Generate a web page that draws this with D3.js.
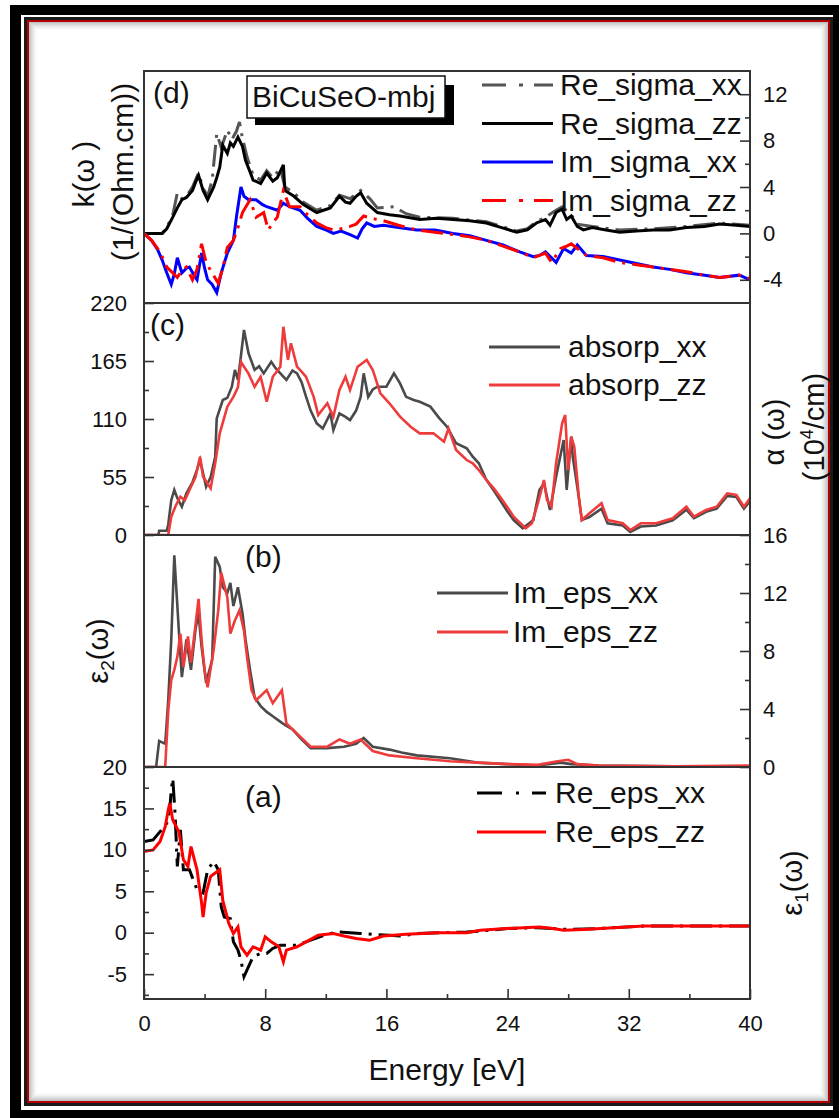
<!DOCTYPE html>
<html>
<head>
<meta charset="utf-8">
<script src="https://cdn.jsdelivr.net/npm/d3@7"></script>
<style>
  html, body { margin: 0; padding: 0; background: #fff; }
  svg { display: block; }
  text { font-family: "Liberation Sans", Arial, sans-serif; fill: #111; }
</style>
</head>
<body>
<svg id="chart" width="839" height="1118"></svg>
<script>
// ---- Energy axis ----
const energyDomain = [0, 40];
const energyMajor = [0, 8, 16, 24, 32, 40];
const energyMinor = [4, 12, 20, 28, 36];

// ---- (d) optical conductivity, [E (eV), value (10^4 1/(Ohm.cm))] ----
const reSigmaXX = [[0,0],[1.2,0],[1.5,0.5],[1.9,1.6],[2.2,3.5],[2.5,3.0],[2.9,3.4],[3.2,4.0],[3.6,5.2],[3.9,3.9],[4.2,3.2],[4.5,4.6],[4.8,8.6],[5.1,7.4],[5.5,8.9],[5.8,8.1],[6.1,8.8],[6.3,9.6],[6.5,8.2],[6.8,6.6],[7.2,5.0],[7.7,4.6],[8.1,5.4],[8.5,4.8],[9.0,5.6],[9.3,4.0],[9.9,3.5],[10.5,2.7],[11.4,2.0],[12.3,2.4],[12.9,3.3],[13.6,3.0],[14.3,3.7],[14.9,3.0],[15.4,2.2],[16.5,2.3],[17.3,1.7],[18.2,1.4],[20.4,1.3],[22.6,1.0],[24.6,0.2],[25.3,0.4],[25.9,1.0],[26.5,1.4],[27.2,2.0],[27.6,2.3],[28.2,1.6],[28.6,0.8],[29.6,0.6],[31.4,0.3],[33.6,0.4],[35.8,0.6],[38.0,0.9],[40,0.7]];
const reSigmaZZ = [[0,0],[1.2,0],[1.5,0.4],[1.9,1.4],[2.2,2.2],[2.5,2.9],[2.8,3.1],[3.2,3.7],[3.4,4.4],[3.6,5.0],[3.9,3.7],[4.2,2.9],[4.6,4.0],[4.8,4.8],[5.0,5.7],[5.2,7.6],[5.5,6.9],[5.7,7.8],[5.9,7.5],[6.2,8.3],[6.5,7.5],[6.7,6.3],[7.0,5.3],[7.2,4.6],[7.7,4.3],[8.1,5.2],[8.5,4.5],[8.8,4.8],[9.2,5.9],[9.3,3.7],[9.9,3.2],[10.5,2.5],[11.0,2.1],[11.4,1.8],[12.3,2.2],[12.9,3.2],[13.3,2.7],[13.6,2.6],[14.0,3.2],[14.3,3.5],[14.7,2.6],[15.4,1.8],[16.2,1.6],[16.9,1.5],[18.2,1.2],[19.3,1.3],[20.4,1.2],[21.5,1.1],[22.6,0.9],[23.6,0.5],[24.6,0.1],[25.3,0.3],[25.9,0.9],[26.5,1.2],[26.8,0.7],[27.2,1.8],[27.6,2.1],[27.9,1.2],[28.2,1.5],[28.6,0.6],[29.0,0.3],[29.6,0.5],[30.5,0.3],[31.4,0.1],[32.5,0.2],[33.6,0.3],[34.7,0.3],[35.8,0.5],[37.0,0.6],[38.0,0.8],[39.1,0.7],[40,0.6]];
const imSigmaXX = [[0,0],[0.5,-0.6],[0.9,-1.4],[1.2,-2.3],[1.5,-3.4],[1.8,-4.4],[2.0,-3.5],[2.2,-2.1],[2.5,-3.4],[2.8,-3.0],[3.0,-2.9],[3.3,-3.6],[3.5,-4.0],[3.8,-1.7],[4.0,-3.0],[4.2,-4.0],[4.5,-4.4],[4.8,-5.1],[5.1,-3.4],[5.5,-1.7],[5.9,-0.6],[6.1,1.4],[6.4,4.0],[6.6,3.2],[6.9,2.9],[7.4,2.9],[7.8,2.5],[8.1,2.3],[8.8,2.0],[9.2,2.6],[9.6,2.3],[10.3,2.0],[10.8,1.3],[11.4,0.6],[12.0,0.3],[12.5,0.0],[13.0,0.2],[13.6,-0.1],[14.1,-0.4],[14.4,0.4],[14.7,0.9],[15.2,0.6],[15.8,0.7],[16.8,0.5],[18.0,0.3],[19.2,0.3],[20.4,0.0],[21.5,-0.2],[22.6,-0.6],[23.7,-1.0],[24.8,-1.6],[25.7,-2.0],[26.1,-1.9],[26.5,-1.6],[26.9,-2.1],[27.2,-2.5],[27.7,-1.3],[28.2,-1.7],[28.6,-1.0],[29.2,-1.9],[30.3,-2.0],[31.4,-2.3],[32.5,-2.6],[33.6,-2.9],[34.7,-3.1],[35.8,-3.4],[37.0,-3.6],[38.0,-3.8],[39.3,-3.6],[40,-4.0]];
const imSigmaZZ = [[0,0],[0.5,-0.6],[0.9,-1.3],[1.2,-2.0],[1.5,-2.9],[1.9,-3.4],[2.2,-3.8],[2.5,-3.2],[2.8,-2.9],[3.2,-4.0],[3.5,-3.1],[3.8,-0.9],[4.1,-2.5],[4.4,-3.2],[4.9,-4.3],[5.2,-3.0],[5.5,-1.2],[5.9,-0.6],[6.2,0.5],[6.5,1.8],[7.0,2.9],[7.4,1.4],[7.9,1.8],[8.2,0.3],[8.5,0.9],[8.8,1.4],[9.2,3.7],[9.6,2.3],[10.3,2.3],[10.8,1.6],[11.4,0.9],[12.0,0.5],[12.5,0.3],[13.0,0.4],[13.6,0.6],[14.0,0.8],[14.5,1.5],[15.0,1.3],[15.8,1.1],[16.8,0.7],[18.0,0.3],[19.2,0.1],[20.4,-0.1],[21.5,-0.3],[22.6,-0.6],[23.7,-1.1],[24.8,-1.6],[25.7,-2.1],[26.5,-1.7],[26.9,-2.5],[27.5,-1.3],[27.9,-1.1],[28.2,-0.9],[28.6,-1.3],[29.2,-1.9],[30.3,-2.1],[31.4,-2.5],[32.5,-2.7],[33.6,-2.9],[34.7,-3.1],[35.8,-3.3],[37.0,-3.6],[38.0,-3.8],[39.3,-3.6],[40,-3.9]];
const dTicks = [-4, 0, 4, 8, 12];
const dMinor = [-2, 2, 6, 10];

// ---- (c) absorption coefficient, [E, 10^4/cm] ----
const absorpXX = [[0,0],[0.95,0],[1.0,4],[1.5,4],[1.6,10],[1.8,33],[2.0,42.7],[2.2,35],[2.5,26.8],[2.8,39.5],[3.2,50],[3.5,62],[3.7,71.1],[4.1,45.8],[4.4,55],[4.7,74.2],[4.8,110.6],[5.2,128],[5.5,130],[5.8,140.6],[6.0,156.5],[6.2,147],[6.4,170],[6.6,194.4],[6.9,172.3],[7.3,156.5],[7.6,160],[7.9,153.3],[8.4,164.3],[8.7,158],[9.0,153.3],[9.4,147],[9.8,156],[10.1,153.3],[10.4,145],[10.7,131],[11.0,118],[11.4,105.9],[11.8,101],[12.3,115.4],[12.5,99.6],[12.9,115.4],[13.3,112],[13.6,109],[14.0,118],[14.3,131],[14.5,153.3],[14.8,131],[15.1,138],[15.4,140.6],[16.0,140.6],[16.5,153.3],[16.9,143.8],[17.3,131],[17.8,128],[18.2,126.4],[18.9,121.7],[19.5,110.6],[20.0,102.7],[20.6,87],[21.3,82.2],[21.7,74.2],[22.1,68],[22.6,52.2],[23.1,42],[23.5,33.2],[24.0,22],[24.4,14.2],[25.0,6.3],[25.7,14.2],[26.1,42.7],[26.4,49],[26.8,23.7],[27.2,55.3],[27.7,90],[27.9,42.7],[28.2,93.2],[28.3,74.2],[28.6,45.8],[28.9,14.2],[29.4,17],[30.2,25],[30.6,11],[31.6,9],[32.1,3],[32.8,8],[33.8,9],[34.9,14],[35.8,24],[36.3,16],[37.1,22],[37.8,25],[38.5,37],[39.1,36],[39.6,25],[40,32]];
const absorpZZ = [[0,0],[1.6,0],[1.8,17.4],[2.1,28],[2.4,36.3],[2.7,33],[3.0,42.7],[3.4,55],[3.7,74.2],[3.9,55.3],[4.4,44.3],[4.7,68],[5.0,96.4],[5.5,121.7],[5.9,131],[6.2,140],[6.4,164],[6.9,153],[7.3,140.6],[7.7,150],[8.1,126.4],[8.5,150],[9.0,159.6],[9.2,197.5],[9.5,166],[9.7,181.8],[10.1,159.6],[10.4,155],[10.7,150],[11.2,131],[11.5,113.8],[12.1,124.9],[12.5,112.2],[12.9,137.5],[13.3,150],[13.6,137.5],[14.1,159.6],[14.7,166],[15.1,156.5],[15.6,134.4],[16.2,124.9],[16.9,112.2],[17.6,102.7],[18.2,96.4],[19.1,96.4],[19.8,88.5],[20.1,101],[20.6,80.6],[21.3,71.1],[21.7,68],[22.1,61.6],[22.6,52.2],[23.1,44],[23.5,36.3],[24.0,26],[24.4,17.4],[25.2,6.3],[25.6,11.1],[26.0,30.1],[26.4,52.2],[26.6,33.2],[26.9,26.8],[27.2,68],[27.6,105.9],[27.8,113.8],[28.0,61.6],[28.2,93.2],[28.4,83.7],[28.7,36.3],[28.9,14.2],[29.4,20.6],[30.2,30.1],[30.6,14.2],[31.6,11.1],[32.1,4.7],[32.8,11.1],[33.8,11.1],[34.9,15.8],[35.8,26.8],[36.3,17.4],[37.1,23.7],[37.8,26.8],[38.5,39.5],[39.1,37.9],[39.6,26.8],[40,34.8]];
const cTicks = [0, 55, 110, 165, 220];
const cMinor = [27.5, 82.5, 137.5, 192.5];

// ---- (b) imaginary dielectric function ----
const imEpsXX = [[0,0],[0.8,0],[1.0,1.8],[1.4,1.6],[1.6,4.6],[1.8,8.8],[2.0,14.6],[2.3,9.4],[2.5,6.2],[2.8,8.8],[3.1,6.7],[3.4,9.5],[3.6,10.6],[3.8,8.3],[4.1,5.8],[4.5,7.4],[4.7,14.5],[5.0,13.8],[5.2,12.4],[5.5,12.0],[5.7,12.7],[5.9,11.1],[6.2,12.4],[6.5,10.6],[6.7,8.8],[7.0,6.7],[7.3,4.8],[7.7,4.2],[8.1,3.8],[8.5,3.5],[8.9,3.2],[9.3,2.9],[9.8,2.6],[10.4,1.9],[11.0,1.3],[12.1,1.3],[13.2,1.4],[14.0,1.6],[14.5,2.0],[15.1,1.4],[16.2,1.2],[17.0,1.0],[18.0,0.8],[20.2,0.6],[22.0,0.3],[24.0,0.2],[26.0,0.1],[27.5,0.3],[28.2,0.2],[30,0.1],[35,0.05],[40,0.05]];
const imEpsZZ = [[0,0],[1.4,0],[1.6,3.9],[1.8,6.0],[2.0,6.7],[2.2,7.6],[2.4,9.2],[2.6,6.9],[2.9,9.0],[3.1,7.2],[3.4,9.8],[3.6,11.6],[3.8,8.8],[4.0,6.7],[4.2,5.5],[4.6,8.1],[4.9,10.8],[5.1,13.4],[5.5,11.7],[5.7,9.2],[6.0,10.1],[6.3,10.8],[6.6,9.4],[6.8,7.6],[7.1,5.3],[7.4,4.6],[8.1,5.3],[8.5,4.4],[9.1,5.3],[9.4,3.0],[10.1,2.3],[11.0,1.4],[12.1,1.4],[12.9,1.9],[13.6,1.6],[14.3,1.9],[15.1,1.1],[16.2,0.8],[18.0,0.6],[20.2,0.4],[22.0,0.3],[24.0,0.2],[26.0,0.15],[27.3,0.4],[28.0,0.5],[28.6,0.2],[30,0.1],[35,0.05],[40,0.1]];
const bTicks = [0, 4, 8, 12, 16];
const bMinor = [2, 6, 10, 14];

// ---- (a) real dielectric function ----
const reEpsXX = [[0,11.0],[0.6,11.2],[1.06,12.2],[1.5,13.2],[1.7,14.9],[1.8,17.2],[1.9,18.6],[2.05,14.4],[2.2,8.0],[2.4,12.4],[2.6,7.6],[3.0,7.6],[3.5,5.2],[3.9,4.8],[4.2,7.6],[4.6,8.6],[4.9,7.6],[5.1,3.1],[5.3,1.9],[5.7,1.7],[5.9,-1.1],[6.2,-2.1],[6.4,-3.3],[6.6,-5.3],[6.9,-4.1],[7.2,-2.9],[7.7,-2.5],[8.1,-2.5],[8.5,-1.9],[9.0,-1.5],[10.1,-1.5],[11.0,-0.9],[11.9,-0.3],[12.7,0.1],[13.6,0.0],[14.3,-0.1],[15.1,-0.2],[16.2,-0.3],[16.9,-0.4],[18,-0.1],[19.5,0.0],[21.3,0.1],[22.2,0.2],[24,0.5],[26,0.6],[28,0.4],[30,0.5],[33,0.8],[40,0.8]];
const reEpsZZ = [[0,9.8],[0.6,10.0],[1.06,11.0],[1.4,12.8],[1.6,14.8],[1.7,15.6],[1.9,13.6],[2.3,12.2],[2.6,8.8],[2.9,8.0],[3.1,10.4],[3.5,7.6],[3.8,3.6],[3.9,1.9],[4.1,4.8],[4.4,6.8],[4.7,7.2],[5.0,7.6],[5.2,3.9],[5.6,1.1],[5.9,-0.1],[6.2,0.7],[6.4,-1.7],[6.8,-2.7],[7.2,-1.7],[7.7,-2.1],[8.0,-0.5],[8.4,-1.1],[8.9,-1.7],[9.2,-3.5],[9.4,-2.1],[10.1,-1.7],[10.7,-1.1],[11.5,-0.3],[12.5,-0.1],[13.2,-0.4],[14.0,-0.7],[14.9,-0.9],[15.8,-0.4],[17.3,-0.2],[19.5,0.0],[21.3,0.0],[22.2,0.3],[23.9,0.5],[26.1,0.7],[27.0,0.5],[27.7,0.3],[29.0,0.4],[33.0,0.8],[40,0.8]];
const aTicks = [-5, 0, 5, 10, 15, 20];
const aMinor = [-7.5, -2.5, 2.5, 7.5, 12.5, 17.5];

// ---- drawing ----
const svg = d3.select("#chart");
const W = 839, H = 1118;

// page frame: outer black band, thin dark + red rule, soft inner shadow
svg.append("rect").attr("x", 10).attr("y", 5).attr("width", W).attr("height", H).attr("fill", "#000");
svg.append("rect").attr("x", 21).attr("y", 15).attr("width", 812).attr("height", 1095).attr("fill", "#fff");
svg.append("rect").attr("x", 24).attr("y", 17).attr("width", 809).attr("height", 1089).attr("fill", "#1a1a1a");
svg.append("rect").attr("x", 27).attr("y", 20).attr("width", 803).attr("height", 1083).attr("fill", "#b40000");
svg.append("rect").attr("x", 29).attr("y", 22).attr("width", 799).attr("height", 1079).attr("fill", "#fff");
for (let i = 0; i < 8; i++) {
  svg.append("rect")
    .attr("x", 29 + i + 0.5).attr("y", 22 + i + 0.5)
    .attr("width", 799 - 2 * i - 1).attr("height", 1079 - 2 * i - 1)
    .attr("fill", "none").attr("stroke", "#000")
    .attr("stroke-opacity", 0.24 * Math.pow(1 - i / 8, 1.5));
}

const plotLeft = 144, plotRight = 750, panelH = 232;
const x = d3.scaleLinear().domain(energyDomain).range([plotLeft, plotRight]);

function makeY(top, domain) {
  return d3.scaleLinear().domain(domain).range([top + panelH, top]);
}
const yD = makeY(71, [-6, 14]);
const yC = makeY(303, [0, 220]);
const yB = makeY(535, [0, 16]);
const yA = makeY(767, [-8, 20]);

const DASHDOT = "22,7,3,7";
const plainNum = d => String(d);

function clipFor(id, top) {
  svg.append("clipPath").attr("id", id)
    .append("rect").attr("x", plotLeft).attr("y", top)
    .attr("width", plotRight - plotLeft).attr("height", panelH);
  return "url(#" + id + ")";
}

function drawSeries(data, y, clip, color, width, dash) {
  const line = d3.line().x(d => x(d[0])).y(d => y(d[1]));
  svg.append("path")
    .datum(data)
    .attr("d", line)
    .attr("fill", "none")
    .attr("stroke", color)
    .attr("stroke-width", width)
    .attr("stroke-linejoin", "miter")
    .attr("stroke-dasharray", dash || null)
    .attr("clip-path", clip);
}

function styleAxis(g) {
  g.select(".domain").remove();
  g.selectAll(".tick line").attr("stroke", "#333").attr("stroke-width", 1.6);
  g.selectAll("text").attr("font-size", 22).attr("fill", "#111")
    .attr("font-family", '"Liberation Sans", Arial, sans-serif');
}

function yAxis(side, y, major, minor) {
  const xPos = side === "left" ? plotLeft : plotRight;
  const maker = side === "left" ? d3.axisLeft : d3.axisRight;
  const gMin = svg.append("g").attr("transform", `translate(${xPos},0)`)
    .call(maker(y).tickValues(minor).tickSizeInner(-5).tickSizeOuter(0).tickFormat(""));
  const gMaj = svg.append("g").attr("transform", `translate(${xPos},0)`)
    .call(maker(y).tickValues(major).tickSizeInner(-10).tickSizeOuter(0)
      .tickPadding(side === "left" ? 17 : 13)
      .tickFormat(plainNum));
  styleAxis(gMin);
  styleAxis(gMaj);
}

// (d)
const clipD = clipFor("clipD", 71);
drawSeries(reSigmaXX, yD, clipD, "#555", 3, DASHDOT);
drawSeries(reSigmaZZ, yD, clipD, "#000", 3);
drawSeries(imSigmaXX, yD, clipD, "#0000ff", 3);
drawSeries(imSigmaZZ, yD, clipD, "#ff0000", 3, DASHDOT);
yAxis("right", yD, dTicks, dMinor);

// (c)
const clipC = clipFor("clipC", 303);
drawSeries(absorpXX, yC, clipC, "#4a4a4a", 2.6);
drawSeries(absorpZZ, yC, clipC, "#ee3b3b", 2.6);
yAxis("left", yC, cTicks, cMinor);

// (b)
const clipB = clipFor("clipB", 535);
drawSeries(imEpsXX, yB, clipB, "#4a4a4a", 2.6);
drawSeries(imEpsZZ, yB, clipB, "#ee3b3b", 2.6);
yAxis("right", yB, bTicks, bMinor);

// (a)
const clipA = clipFor("clipA", 767);
drawSeries(reEpsXX, yA, clipA, "#000", 3, DASHDOT);
drawSeries(reEpsZZ, yA, clipA, "#ff0000", 3);
yAxis("left", yA, aTicks, aMinor);

// energy axis
const gxMin = svg.append("g").attr("transform", `translate(0,999)`)
  .call(d3.axisBottom(x).tickValues(energyMinor).tickSizeInner(-5).tickSizeOuter(0).tickFormat(""));
const gxMaj = svg.append("g").attr("transform", `translate(0,999)`)
  .call(d3.axisBottom(x).tickValues(energyMajor).tickSizeInner(-10).tickSizeOuter(0).tickPadding(16).tickFormat(plainNum));
styleAxis(gxMin);
styleAxis(gxMaj);

// panel frame and separators
svg.append("rect").attr("x", plotLeft).attr("y", 71)
  .attr("width", plotRight - plotLeft).attr("height", 999 - 71)
  .attr("fill", "none").attr("stroke", "#333").attr("stroke-width", 2);
[303, 535, 767].forEach(yy => {
  svg.append("line").attr("x1", plotLeft).attr("x2", plotRight)
    .attr("y1", yy).attr("y2", yy).attr("stroke", "#333").attr("stroke-width", 2);
});

// axis titles
function txt(str, xx, yy, size, anchor) {
  return svg.append("text").attr("x", xx).attr("y", yy)
    .attr("font-size", size).attr("text-anchor", anchor || "start").text(str);
}
txt("Energy [eV]", 447, 1080, 30, "middle");

function vtxt(xx, yy, size) {
  return svg.append("text")
    .attr("transform", `translate(${xx},${yy}) rotate(-90)`)
    .attr("font-size", size).attr("text-anchor", "middle");
}
vtxt(94, 174, 30).text("k(ω )");
vtxt(133, 172, 30).text("(1/(Ohm.cm))");

const e2 = vtxt(108, 651, 29);
e2.append("tspan").text("ε");
e2.append("tspan").attr("font-size", 19).attr("dy", 6).text("2");
e2.append("tspan").attr("dy", -6).text("(ω)");

vtxt(784, 432, 29).text("α (ω)");
const unitC = vtxt(824, 427, 29);
unitC.append("tspan").text("(10");
unitC.append("tspan").attr("font-size", 18).attr("dy", -11).text("4");
unitC.append("tspan").attr("dy", 11).text("/cm)");

const e1 = vtxt(802, 883, 29);
e1.append("tspan").text("ε");
e1.append("tspan").attr("font-size", 19).attr("dy", 6).text("1");
e1.append("tspan").attr("dy", -6).text("(ω)");

// panel tags
txt("(d)", 153, 103, 30);
txt("(c)", 150, 335, 30);
txt("(b)", 245, 567, 30);
txt("(a)", 245, 807, 30);

// compound label box with drop shadow
svg.append("rect").attr("x", 255).attr("y", 85).attr("width", 199).attr("height", 40).attr("fill", "#000");
svg.append("rect").attr("x", 247).attr("y", 76).attr("width", 198).attr("height", 42)
  .attr("fill", "#fff").attr("stroke", "#111").attr("stroke-width", 1.5);
txt("BiCuSeO-mbj", 252, 107, 30);

// legends
function legend(items, x1, x2, tx, baselines) {
  items.forEach((it, i) => {
    const b = baselines[i];
    svg.append("line").attr("x1", x1).attr("x2", x2).attr("y1", b - 10).attr("y2", b - 10)
      .attr("stroke", it.color).attr("stroke-width", 3.2)
      .attr("stroke-dasharray", it.dash || null);
    txt(it.label, tx, b, 30);
  });
}
legend([
  { label: "Re_sigma_xx", color: "#555", dash: "24,13,4,11" },
  { label: "Re_sigma_zz", color: "#000" },
  { label: "Im_sigma_xx", color: "#0000ff" },
  { label: "Im_sigma_zz", color: "#ff0000", dash: "24,13,4,11" }
], 482, 553, 560, [95, 133.5, 172, 210.5]);
legend([
  { label: "absorp_xx", color: "#4a4a4a" },
  { label: "absorp_zz", color: "#ee3b3b" }
], 489, 560, 568, [357, 395]);
legend([
  { label: "Im_eps_xx", color: "#4a4a4a" },
  { label: "Im_eps_zz", color: "#ee3b3b" }
], 437, 508, 513, [603, 642]);
legend([
  { label: "Re_eps_xx", color: "#000", dash: "25,14,3,13" },
  { label: "Re_eps_zz", color: "#ff0000" }
], 477, 546, 555, [803, 842]);
</script>
</body>
</html>
